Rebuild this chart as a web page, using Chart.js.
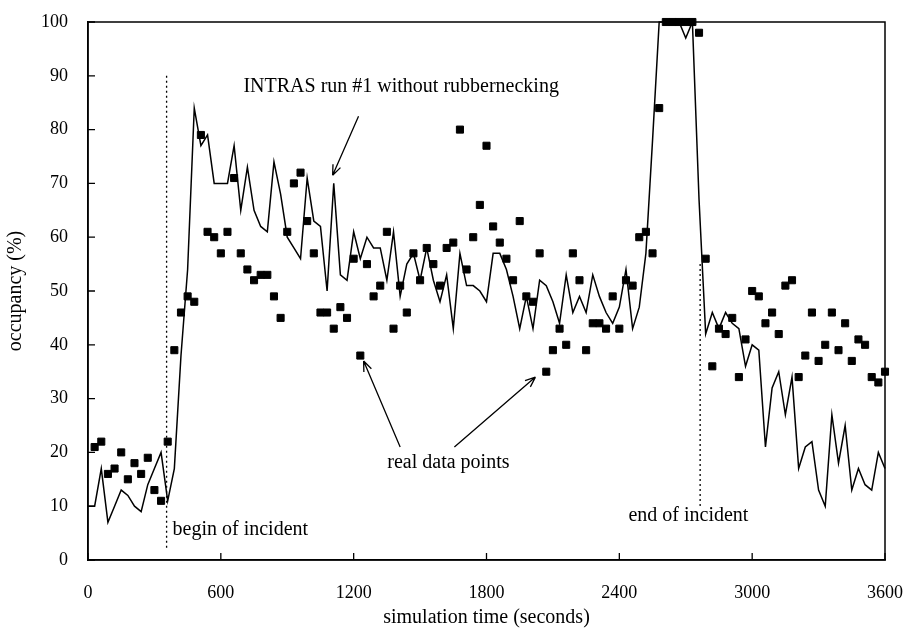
<!DOCTYPE html>
<html>
<head>
<meta charset="utf-8">
<script src="https://cdn.jsdelivr.net/npm/chart.js@4.4.1/dist/chart.umd.min.js"></script>
<style>
  html, body { margin: 0; padding: 0; background: #fff; }
  #wrap { width: 906px; height: 630px; }
</style>
</head>
<body>
<div id="wrap"><canvas id="c"></canvas></div>
<script>
// real data points (squares), every 30 s
const realTimes = [
  30, 60, 90, 120, 150, 180, 210, 240, 270, 300,
  330, 360, 390, 420, 450, 480, 510, 540, 570, 600,
  630, 660, 690, 720, 750, 780, 810, 840, 870, 900,
  930, 960, 990, 1020, 1050, 1080, 1110, 1140, 1170, 1200,
  1230, 1260, 1290, 1320, 1350, 1380, 1410, 1440, 1470, 1500,
  1530, 1560, 1590, 1620, 1650, 1680, 1710, 1740, 1770, 1800,
  1830, 1860, 1890, 1920, 1950, 1980, 2010, 2040, 2070, 2100,
  2130, 2160, 2190, 2220, 2250, 2280, 2310, 2340, 2370, 2400,
  2430, 2460, 2490, 2520, 2550, 2580, 2610, 2640, 2670, 2700,
  2730, 2760, 2790, 2820, 2850, 2880, 2910, 2940, 2970, 3000,
  3030, 3060, 3090, 3120, 3150, 3180, 3210, 3240, 3270, 3300,
  3330, 3360, 3390, 3420, 3450, 3480, 3510, 3540, 3570, 3600
]
const realOccupancy = [
  21, 22, 16, 17, 20, 15, 18, 16, 19, 13,
  11, 22, 39, 46, 49, 48, 79, 61, 60, 57,
  61, 71, 57, 54, 52, 53, 53, 49, 45, 61,
  70, 72, 63, 57, 46, 46, 43, 47, 45, 56,
  38, 55, 49, 51, 61, 43, 51, 46, 57, 52,
  58, 55, 51, 58, 59, 80, 54, 60, 66, 77,
  62, 59, 56, 52, 63, 49, 48, 57, 35, 39,
  43, 40, 57, 52, 39, 44, 44, 43, 49, 43,
  52, 51, 60, 61, 57, 84, 100, 100, 100, 100,
  100, 98, 56, 36, 43, 42, 45, 34, 41, 50,
  49, 44, 46, 42, 51, 52, 34, 38, 46, 37,
  40, 46, 39, 44, 37, 41, 40, 34, 33, 35
]

// INTRAS run #1 without rubbernecking (line)
const simTimes = [
  0, 30, 60, 90, 120, 150, 180, 210, 240, 270,
  300, 330, 360, 390, 420, 450, 480, 510, 540, 570,
  600, 630, 660, 690, 720, 750, 780, 810, 840, 870,
  900, 930, 960, 990, 1020, 1050, 1080, 1110, 1140, 1170,
  1200, 1230, 1260, 1290, 1320, 1350, 1380, 1410, 1440, 1470,
  1500, 1530, 1560, 1590, 1620, 1650, 1680, 1710, 1740, 1770,
  1800, 1830, 1860, 1890, 1920, 1950, 1980, 2010, 2040, 2070,
  2100, 2130, 2160, 2190, 2220, 2250, 2280, 2310, 2340, 2370,
  2400, 2430, 2460, 2490, 2520, 2550, 2580, 2610, 2640, 2670,
  2700, 2730, 2760, 2790, 2820, 2850, 2880, 2910, 2940, 2970,
  3000, 3030, 3060, 3090, 3120, 3150, 3180, 3210, 3240, 3270,
  3300, 3330, 3360, 3390, 3420, 3450, 3480, 3510, 3540, 3570,
  3600
]
const simOccupancy = [
  10, 10, 17, 7, 10, 13, 12, 10, 9, 14,
  17, 20, 11, 17, 38, 54, 84, 77, 79, 70,
  70, 70, 77, 65, 73, 65, 62, 61, 74, 68,
  60, 58, 56, 71, 63, 62, 50, 70, 53, 52,
  61, 56, 60, 58, 58, 52, 61, 49, 55, 57,
  52, 58, 52, 48, 53, 43, 57, 51, 51, 50,
  48, 57, 57, 54, 49, 43, 49, 43, 52, 51,
  48, 44, 53, 46, 49, 46, 53, 49, 46, 44,
  47, 54, 43, 47, 57, 78, 100, 100, 100, 100,
  97, 100, 67, 42, 46, 43, 46, 44, 43, 36,
  40, 39, 21, 32, 35, 27, 34, 17, 21, 22,
  13, 10, 27, 18, 25, 13, 17, 14, 13, 20,
  17
]

// incident markers (dotted verticals)
const beginIncident = [{ x: 355, y: 90 }, { x: 355, y: 2 }]
const endIncident = [{ x: 2765, y: 55 }, { x: 2765, y: 10 }]

const xTicks = [0, 600, 1200, 1800, 2400, 3000, 3600]
const yTicks = [0, 10, 20, 30, 40, 50, 60, 70, 80, 90, 100]

// labels and arrows in data units
const labels = [
  { text: "INTRAS run #1 without rubbernecking", x: 702, y: 88, align: "left" },
  { text: "real data points", x: 1352, y: 18, align: "left" },
  { text: "begin of incident", x: 382, y: 5.6, align: "left" },
  { text: "end of incident", x: 2712, y: 8.2, align: "center" }
]
const arrows = [
  { from: [1222, 82.5], to: [1105, 71.5] },
  { from: [1410, 21], to: [1245, 37] },
  { from: [1655, 21], to: [2021, 34] }
]

const SERIF = "'Liberation Serif', 'Times New Roman', serif"

const paperPlugin = {
  id: "paper",
  afterDatasetsDraw(chart) {
    const { ctx, chartArea: a, scales: { x, y } } = chart
    ctx.save()
    ctx.strokeStyle = "#000"
    ctx.lineWidth = 1.5
    ctx.strokeRect(a.left, a.top, a.right - a.left, a.bottom - a.top)

    // inward tick marks
    ctx.lineWidth = 1.3
    ctx.beginPath()
    xTicks.forEach(v => {
      const px = x.getPixelForValue(v)
      ctx.moveTo(px, a.bottom)
      ctx.lineTo(px, a.bottom - 7)
    })
    yTicks.forEach(v => {
      const py = y.getPixelForValue(v)
      ctx.moveTo(a.left, py)
      ctx.lineTo(a.left + 7, py)
    })
    ctx.stroke()

    // arrows
    arrows.forEach(ar => {
      const x1 = x.getPixelForValue(ar.from[0]), y1 = y.getPixelForValue(ar.from[1])
      const x2 = x.getPixelForValue(ar.to[0]), y2 = y.getPixelForValue(ar.to[1])
      const ang = Math.atan2(y2 - y1, x2 - x1)
      ctx.beginPath()
      ctx.moveTo(x1, y1)
      ctx.lineTo(x2, y2)
      for (const s of [-1, 1]) {
        ctx.moveTo(x2, y2)
        ctx.lineTo(x2 - 11 * Math.cos(ang + s * 0.38), y2 - 11 * Math.sin(ang + s * 0.38))
      }
      ctx.stroke()
    })

    // text
    ctx.fillStyle = "#000"
    ctx.font = "20px " + SERIF
    ctx.textBaseline = "middle"
    labels.forEach(l => {
      ctx.textAlign = l.align
      ctx.fillText(l.text, x.getPixelForValue(l.x), y.getPixelForValue(l.y))
    })
    ctx.restore()
  }
}

new Chart(document.getElementById("c"), {
  type: "line",
  data: {
    datasets: [
      {
        label: "INTRAS",
        data: simTimes.map((t, i) => ({ x: t, y: simOccupancy[i] })),
        borderColor: "#000",
        borderWidth: 1.5,
        pointRadius: 0,
        tension: 0,
        order: 2
      },
      {
        label: "real data",
        data: realTimes.map((t, i) => ({ x: t, y: realOccupancy[i] })),
        showLine: false,
        pointStyle: "rect",
        pointRadius: 5,
        pointBackgroundColor: "#000",
        pointBorderColor: "#000",
        pointBorderWidth: 1,
        order: 1
      },
      {
        label: "begin",
        data: beginIncident,
        borderColor: "#000",
        borderWidth: 1.3,
        borderDash: [2, 3],
        pointRadius: 0
      },
      {
        label: "end",
        data: endIncident,
        borderColor: "#000",
        borderWidth: 1.3,
        borderDash: [2, 3],
        pointRadius: 0
      }
    ]
  },
  options: {
    responsive: true,
    maintainAspectRatio: false,
    animation: false,
    clip: false,
    layout: { padding: { top: 22, right: 21, left: 0, bottom: 0 } },
    plugins: {
      legend: { display: false },
      tooltip: { enabled: false }
    },
    scales: {
      x: {
        type: "linear",
        min: 0,
        max: 3600,
        afterBuildTicks: axis => { axis.ticks = xTicks.map(v => ({ value: v })) },
        afterFit: axis => {
          axis.height = 70
          axis.paddingLeft = 0
          axis.paddingRight = 0
        },
        grid: { display: false, drawTicks: false },
        border: { display: true, color: "#000", width: 1.5 },
        ticks: {
          color: "#000",
          padding: 22,
          maxRotation: 0,
          font: { family: SERIF, size: 18 },
          callback: v => String(v)
        },
        title: {
          display: true,
          text: "simulation time (seconds)",
          color: "#000",
          padding: { top: 0, bottom: 0 },
          font: { family: SERIF, size: 20 }
        }
      },
      y: {
        min: 0,
        max: 100,
        afterBuildTicks: axis => { axis.ticks = yTicks.map(v => ({ value: v })) },
        afterFit: axis => {
          axis.width = 88
          axis.paddingTop = 0
          axis.paddingBottom = 0
        },
        grid: { display: false, drawTicks: false },
        border: { display: true, color: "#000", width: 1.5 },
        ticks: {
          color: "#000",
          padding: 20,
          font: { family: SERIF, size: 18 },
          callback: v => String(v)
        },
        title: {
          display: true,
          text: "occupancy (%)",
          color: "#000",
          padding: { top: 4, bottom: 0 },
          font: { family: SERIF, size: 20 }
        }
      }
    }
  },
  plugins: [paperPlugin]
})
</script>
</body>
</html>
